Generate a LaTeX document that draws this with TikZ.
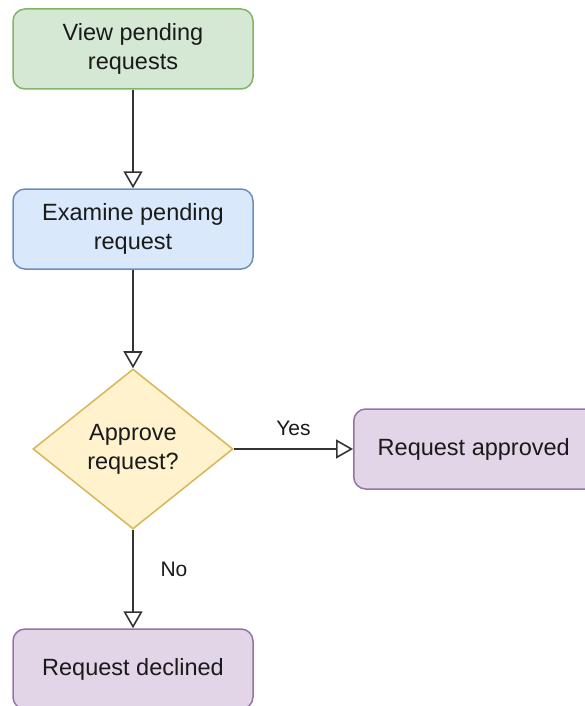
\documentclass[tikz,border=0pt]{standalone}
\usepackage{fontspec}
\setmainfont{Liberation Sans}
\usetikzlibrary{shapes.geometric,arrows.meta}

\definecolor{txt}{HTML}{1A1A1A}
\definecolor{edge}{HTML}{333333}
\definecolor{greenfill}{HTML}{D5E8D4}\definecolor{greenline}{HTML}{82B366}
\definecolor{bluefill}{HTML}{DAE8FC}\definecolor{blueline}{HTML}{6C8EBF}
\definecolor{yellowfill}{HTML}{FFF2CC}\definecolor{yellowline}{HTML}{D6B656}
\definecolor{purplefill}{HTML}{E1D5E7}\definecolor{purpleline}{HTML}{9673A6}

\tikzset{
  x=1pt, y=-1pt,
  boxtext/.style={text=txt, font=\fontsize{23.5}{29}\selectfont, align=center},
  stepbox/.style={boxtext, rectangle, rounded corners=12pt, line width=1.5pt,
    minimum width=240pt, minimum height=80pt, inner sep=0pt},
  decision/.style={boxtext, diamond, line width=1.5pt, inner sep=0pt,
    minimum width=200pt, minimum height=160pt},
  flow/.style={edge, line width=1.6pt,
    -{Triangle[open, length=17pt, width=19pt, line width=1.6pt]}},
  lbl/.style={text=txt, font=\fontsize{21}{25}\selectfont, inner sep=0pt},
}

\begin{document}
\begin{tikzpicture}
\useasboundingbox (0,0) rectangle (584,706);

\node[stepbox, fill=greenfill, draw=greenline] (view) at (133,49) {View pending\\requests};
\node[stepbox, fill=bluefill, draw=blueline] (examine) at (133,229) {Examine pending\\request};
\node[decision, fill=yellowfill, draw=yellowline] (approve) at (133,449) {Approve\\request?};
% this box runs on past the right edge of the page
\node[stepbox, fill=purplefill, draw=purpleline, minimum width=280pt, anchor=west]
  (approved) at (353,449) {\makebox[240pt]{Request approved}\hspace{40pt}};
\node[stepbox, fill=purplefill, draw=purpleline] (declined) at (133,669) {Request declined};

\draw[flow] (view) -- (examine);
\draw[flow] (examine) -- (approve);
\draw[flow] (approve) -- node[lbl, yshift=21pt] {Yes} (approved.west);
\draw[flow] (approve) -- node[lbl, xshift=41pt, yshift=10pt] {No} (declined);
\end{tikzpicture}
\end{document}
